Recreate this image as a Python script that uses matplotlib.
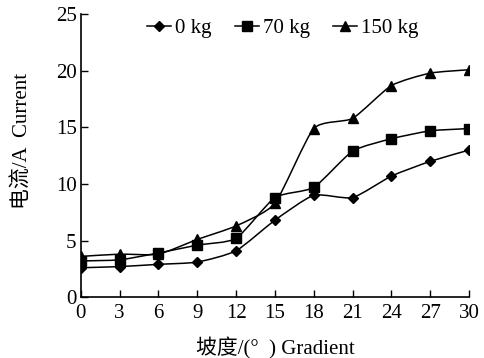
import numpy as np
import matplotlib
matplotlib.use("Agg")
import matplotlib.pyplot as plt
from matplotlib.path import Path
from matplotlib.patches import PathPatch

plt.rcParams['font.family'] = ['Liberation Serif', 'Noto Sans CJK SC', 'DejaVu Sans']

gradient = [0, 3, 6, 9, 12, 15, 18, 21, 24, 27, 30]
current_0kg = [2.6, 2.7, 2.9, 3.1, 4.1, 6.8, 9.0, 8.8, 10.7, 12.0, 13.0]
current_70kg = [3.2, 3.3, 3.9, 4.6, 5.2, 8.8, 9.7, 12.9, 14.0, 14.7, 14.9]
current_150kg = [3.6, 3.8, 3.8, 5.1, 6.3, 8.3, 14.9, 15.8, 18.7, 19.8, 20.1]
labels = ['0 kg', '70 kg', '150 kg']
markers = ['D', 's', '^']
msizes = [5.5, 7, 7]
xticks = [0, 3, 6, 9, 12, 15, 18, 21, 24, 27, 30]
yticks = [0, 5, 10, 15, 20, 25]


def smooth_path(x, y, t=0.3):
    x = np.asarray(x, float)
    y = np.asarray(y, float)
    verts = [(x[0], y[0])]
    codes = [Path.MOVETO]
    n = len(x)
    for i in range(n - 1):
        x0, y0 = (x[i - 1], y[i - 1]) if i > 0 else (x[i], y[i])
        x3, y3 = (x[i + 2], y[i + 2]) if i + 2 < n else (x[i + 1], y[i + 1])
        x1, y1 = x[i], y[i]
        x2, y2 = x[i + 1], y[i + 1]
        c1 = (x1 + (x2 - x0) * t / 3, y1 + (y2 - y0) * t / 3)
        c2 = (x2 - (x3 - x1) * t / 3, y2 - (y3 - y1) * t / 3)
        verts += [c1, c2, (x2, y2)]
        codes += [Path.CURVE4] * 3
    return Path(verts, codes)


fig = plt.figure(figsize=(4.84, 3.58), dpi=100)
ax = fig.add_axes([0.167, 0.170, 0.802, 0.790])

series = [current_0kg, current_70kg, current_150kg]
for vals, lab, mk, ms in zip(series, labels, markers, msizes):
    ax.add_patch(PathPatch(smooth_path(gradient, vals), facecolor='none',
                           edgecolor='black', lw=1.1))
    ax.plot(gradient, vals, linestyle='none', marker=mk, ms=ms, color='black')
    ax.plot([], [], color='black', lw=1.1, marker=mk, ms=ms, label=lab)

ax.set_xlim(0, 30)
ax.set_ylim(0, 25)
ax.set_xticks(xticks)
ax.set_yticks(yticks)
ax.tick_params(direction='in', length=5, width=1, labelsize=15)
ax.tick_params(axis='x', pad=5)
ax.tick_params(axis='y', pad=3)
for s in ['top', 'right']:
    ax.spines[s].set_visible(False)
for s in ['left', 'bottom']:
    ax.spines[s].set_linewidth(1.2)

ax.set_xlabel('坡度/(°  ) Gradient', fontsize=15, labelpad=10)
ax.set_ylabel('电流/A  Current', fontsize=15)
ax.yaxis.set_label_coords(-0.124, 0.553)

ax.legend(loc='upper center', bbox_to_anchor=(0.52, 1.015), ncol=3, frameon=False,
          fontsize=15, handlelength=1.15, handletextpad=0.2, columnspacing=1.1,
          borderaxespad=0)

fig.savefig('out.png', dpi=100)
